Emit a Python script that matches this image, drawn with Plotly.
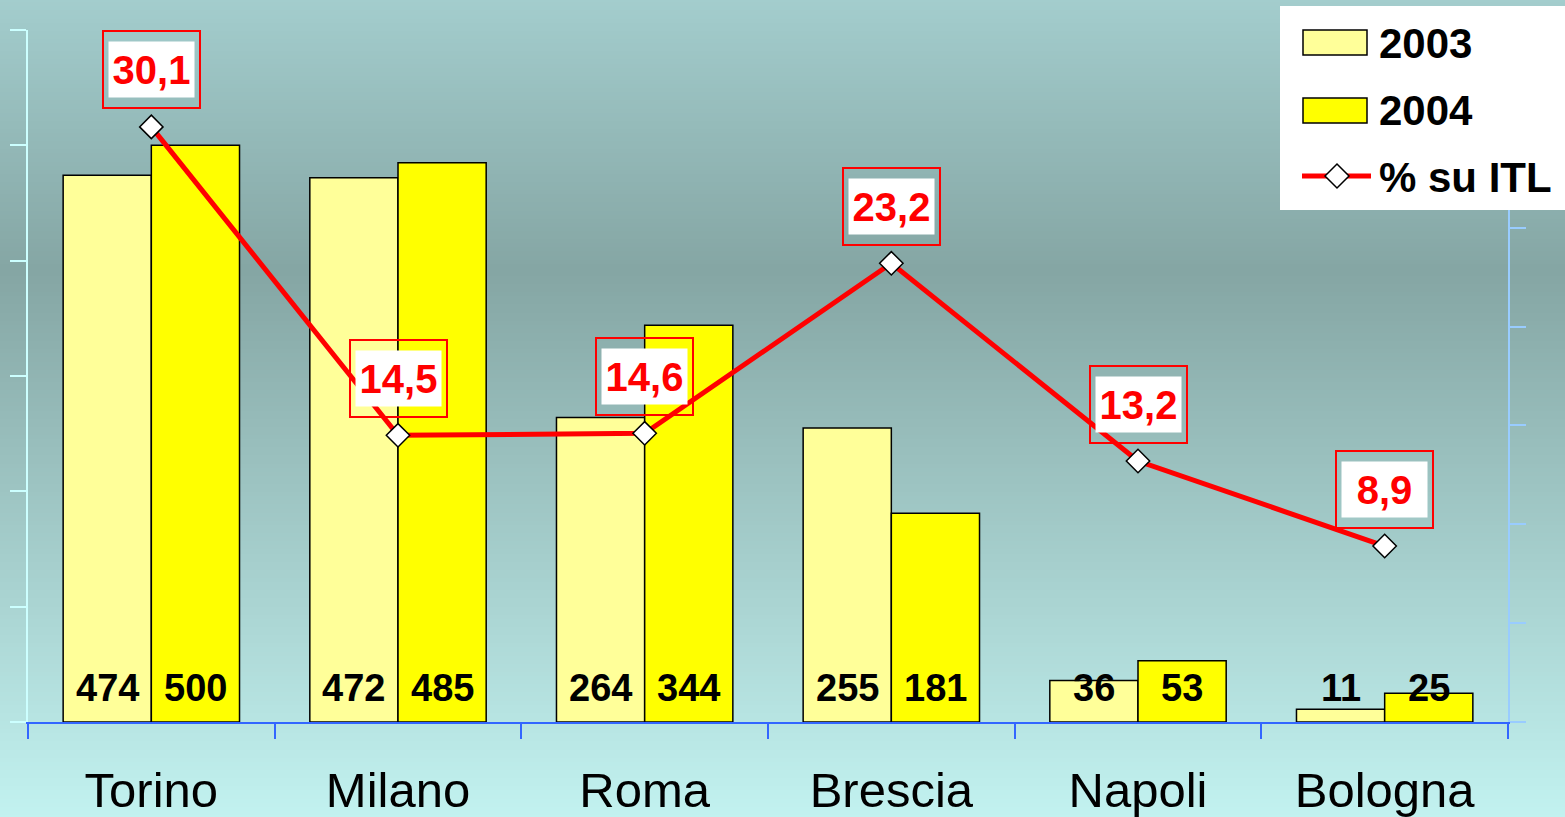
import plotly.graph_objects as go
import zlib, struct, base64

# ---------------- data ----------------
categories = ["Torino", "Milano", "Roma", "Brescia", "Napoli", "Bologna"]
val_2003 = [474, 472, 264, 255, 36, 11]
val_2004 = [500, 485, 344, 181, 53, 25]
pct_itl = [30.1, 14.5, 14.6, 23.2, 13.2, 8.9]
series_names = ["2003", "2004", "% su ITL"]

# ---------------- geometry ----------------
W, H = 1565, 817
L, R, T, B = 28, 57, 30, 95
PW, PH = W - L - R, H - T - B
BARGAP = 0.285
FONT = "Liberation Sans, Arial, sans-serif"


def px(x):
    return (x - L) / PW


def py(y):
    return (H - B - y) / PH


def gradient_png(h):
    stops = [(0.0, (163, 205, 205)), (0.33, (133, 166, 164)), (1.0, (194, 242, 240))]
    rows = []
    for y in range(h):
        f = y / (h - 1)
        for i in range(len(stops) - 1):
            a, ca = stops[i]
            b, cb = stops[i + 1]
            if a <= f <= b:
                t = (f - a) / (b - a)
                c = tuple(int(round(ca[k] + (cb[k] - ca[k]) * t)) for k in range(3))
                break
        rows.append(b"\x00" + bytes(c) * 2)
    raw = b"".join(rows)

    def chunk(tag, data):
        return struct.pack(">I", len(data)) + tag + data + struct.pack(">I", zlib.crc32(tag + data) & 0xFFFFFFFF)

    png = (b"\x89PNG\r\n\x1a\n"
           + chunk(b"IHDR", struct.pack(">IIBBBBB", 2, h, 8, 2, 0, 0, 0))
           + chunk(b"IDAT", zlib.compress(raw))
           + chunk(b"IEND", b""))
    return "data:image/png;base64," + base64.b64encode(png).decode()


fig = go.Figure()
fig.add_trace(go.Bar(x=categories, y=val_2003, name=series_names[0],
                     marker=dict(color="#FFFF99", line=dict(color="black", width=1.5))))
fig.add_trace(go.Bar(x=categories, y=val_2004, name=series_names[1],
                     marker=dict(color="#FFFF00", line=dict(color="black", width=1.5))))
fig.add_trace(go.Scatter(x=categories, y=pct_itl, name=series_names[2], yaxis="y2",
                         mode="lines+markers",
                         line=dict(color="#FF0000", width=5),
                         marker=dict(symbol="diamond", size=18, color="white",
                                     line=dict(color="black", width=1.5))))

annotations = []
off = (1 - BARGAP) / 4
for i, cat in enumerate(categories):
    for v, dx in ((val_2003[i], -off), (val_2004[i], off)):
        annotations.append(dict(x=i + dx, y=0, xref="x", yref="y", text=str(v),
                                showarrow=False, yanchor="middle", yshift=34,
                                font=dict(family=FONT, size=38, color="black", weight="bold")))
    lab = f"{pct_itl[i]:.1f}".replace(".", ",")
    annotations.append(dict(x=cat, y=pct_itl[i], xref="x", yref="y2", text=lab,
                            showarrow=False, yshift=57, width=95, height=75,
                            bordercolor="#FF0000", borderwidth=2, borderpad=0,
                            bgcolor="rgba(0,0,0,0)",
                            font=dict(family=FONT, size=40, color="rgba(0,0,0,0)", weight="bold")))
    annotations.append(dict(x=cat, y=pct_itl[i], xref="x", yref="y2", text=lab,
                            showarrow=False, yshift=57, width=85, height=55,
                            bgcolor="white", borderpad=0,
                            font=dict(family=FONT, size=40, color="#FF0000", weight="bold")))

# manual legend
shapes = [
    dict(type="rect", xref="paper", yref="paper", x0=px(1280), x1=px(1566), y0=py(210), y1=py(6),
         fillcolor="white", line=dict(width=0), layer="above"),
    dict(type="rect", xref="paper", yref="paper", x0=px(1303), x1=px(1367), y0=py(55), y1=py(30),
         fillcolor="#FFFF99", line=dict(color="black", width=1.5), layer="above"),
    dict(type="rect", xref="paper", yref="paper", x0=px(1303), x1=px(1367), y0=py(123), y1=py(98),
         fillcolor="#FFFF00", line=dict(color="black", width=1.5), layer="above"),
    dict(type="line", xref="paper", yref="paper", x0=px(1302), x1=px(1371), y0=py(176), y1=py(176),
         line=dict(color="#FF0000", width=5), layer="above"),
]
cx, cy, hd = 1337, 176, 12
shapes.append(dict(type="path", xref="paper", yref="paper", layer="above",
                   path=f"M {px(cx - hd)} {py(cy)} L {px(cx)} {py(cy - hd)} L {px(cx + hd)} {py(cy)} L {px(cx)} {py(cy + hd)} Z",
                   fillcolor="white", line=dict(color="black", width=1.5)))
for name, yc in zip(series_names, (43, 110, 177)):
    annotations.append(dict(x=px(1377), y=py(yc), xref="paper", yref="paper", text=name,
                            showarrow=False, xanchor="left", yanchor="middle",
                            font=dict(family=FONT, size=42, color="black", weight="bold")))

fig.update_layout(
    width=W, height=H,
    margin=dict(l=L, r=R, t=T, b=B, autoexpand=False),
    paper_bgcolor="#A8D4D4",
    plot_bgcolor="rgba(0,0,0,0)",
    barmode="group", bargap=BARGAP, bargroupgap=0,
    showlegend=False,
    font=dict(family=FONT),
    images=[dict(source=gradient_png(200), xref="paper", yref="paper",
                 x=-L / PW, y=1 + T / PH, sizex=W / PW, sizey=H / PH,
                 xanchor="left", yanchor="top", sizing="stretch", layer="below")],
    xaxis=dict(showline=True, linecolor="#3366FF", linewidth=2,
               ticks="outside", tickson="boundaries", ticklen=15, tickcolor="#3366FF", tickwidth=2,
               tickfont=dict(family=FONT, size=49, color="black"), ticklabelstandoff=24,
               showgrid=False, zeroline=False),
    yaxis=dict(range=[0, 600], dtick=100, showline=True, linecolor="#CCFFFF", linewidth=2,
               ticks="outside", ticklen=16, tickcolor="#CCFFFF", tickwidth=2,
               showticklabels=False, showgrid=False, zeroline=False),
    yaxis2=dict(range=[0, 35], dtick=5, overlaying="y", side="right",
                showline=True, linecolor="#99CCFF", linewidth=2,
                ticks="outside", ticklen=16, tickcolor="#99CCFF", tickwidth=2,
                showticklabels=False, showgrid=False, zeroline=False),
    shapes=shapes,
    annotations=annotations,
)

fig.write_html("out.html", config={"displayModeBar": False},
               post_script="document.body.style.margin='0';document.body.style.overflow='hidden';")
